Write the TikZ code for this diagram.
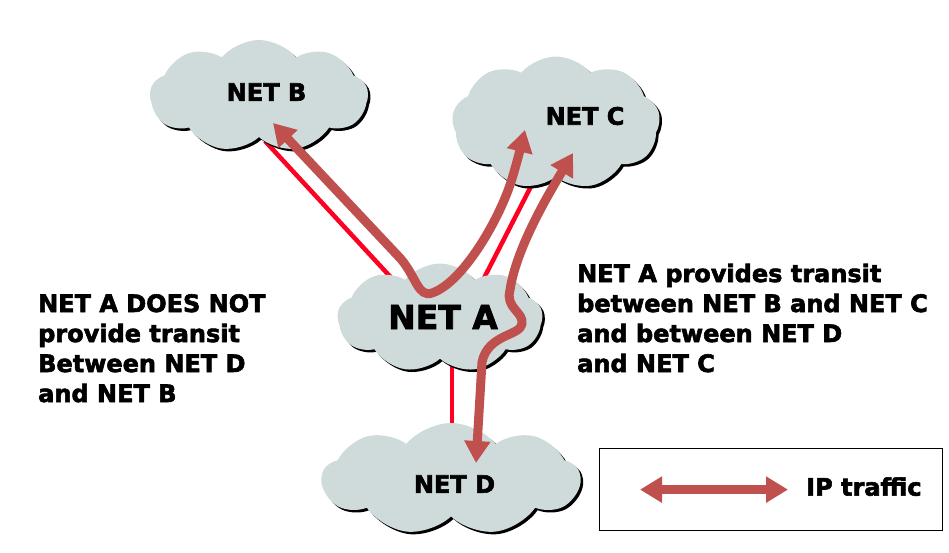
\documentclass[tikz,border=0pt]{standalone}
\usepackage{fontspec}
\setmainfont{DejaVu Sans}[BoldFeatures={FakeBold=2.5}]
\usetikzlibrary{shapes.symbols,shadows,arrows.meta}
\definecolor{cloudfill}{HTML}{CFDADB}
\definecolor{traffic}{HTML}{C0504D}
\definecolor{linkred}{HTML}{FF0022}
\begin{document}
\begin{tikzpicture}[x=1pt,y=-1pt,
  netcloud/.style={cloud, cloud puffs=9, cloud puff arc=100, fill=cloudfill, draw=none, inner sep=0pt,
    drop shadow={fill=black, opacity=1, shadow xshift=2.5pt, shadow yshift=-2.5pt}},
  redlink/.style={draw=linkred, line width=4.5pt},
  trafficarrow/.style={draw=traffic, line width=9pt, line join=round,
    {Triangle[length=22pt,width=25pt]}-{Triangle[length=22pt,width=25pt]}},
  netname/.style={font=\bfseries\fontsize{24}{28}\selectfont, inner sep=0pt},
  bigname/.style={font=\bfseries\fontsize{33}{38}\selectfont, inner sep=0pt},
  txtblock/.style={font=\bfseries\fontsize{24}{30}\selectfont, align=left, inner sep=0pt, anchor=base west}
]
\useasboundingbox (0,0) rectangle (949,552);

% red physical links (behind clouds)
\coordinate (Bc) at (259,96);
\coordinate (Cc) at (556,123);
\coordinate (Ac) at (440,318);
\coordinate (Dc) at (451,479);
\draw[redlink] ([shift={(6,45)}]Bc) -- ([shift={(-43,-34)}]Ac);
\draw[redlink] ([shift={(-12,38)}]Cc) -- ([shift={(43,-38)}]Ac);
\draw[redlink] ([shift={(12,42)}]Ac) -- ([shift={(1,-44)}]Dc);

% clouds
\node[netcloud, minimum width=218pt, minimum height=112pt] (B) at (Bc) {};
\node[netcloud, minimum width=208pt, minimum height=133pt] (C) at (Cc) {};
\node[netcloud, minimum width=205pt, minimum height=109pt] (A) at (Ac) {};
\node[netcloud, minimum width=258pt, minimum height=112pt] (D) at (Dc) {};

\node[netname] (labB) at (266.5,92) {NET B};
\node[netname] (labC) at (585,116) {NET C};
\node[bigname] (labA) at (443,317) {NET A};
\node[netname] (labD) at (454.5,484) {NET D};

% IP traffic arrows
\draw[trafficarrow] ([shift={(14,27)}]B.center) -- (400,258)
  .. controls (416,276) and (418,298) .. (432,293)
  .. controls (462,283) and (498,222) .. (511,182)
  .. controls (516,166) and (520,150) .. ([shift={(-31,7)}]C.center);
\draw[trafficarrow] ([shift={(17,30)}]C.center)
  .. controls (545,200) and (516,250) .. (510,290)
  .. controls (505,308) and (524,312) .. (522,324)
  .. controls (520,336) and (488,334) .. (482,362)
  -- ([shift={(25,-16)}]D.center);

% texts (base anchor = baseline of last line)
\node[txtblock] (leftnote) at (38,402) {NET A DOES NOT\\provide transit\\Between NET D\\and NET B};
\node[txtblock] (rightnote) at (577,372) {NET A provides transit\\between NET B and NET C\\and between NET D\\and NET C};

% legend
\node[draw, line width=1.2pt, minimum width=343pt, minimum height=82pt, inner sep=0pt, anchor=north west] (legend) at (599,448) {};
\draw[trafficarrow] ([xshift=41pt]legend.west) -- ([xshift=189pt]legend.west);
\node[netname, anchor=base west] (iplabel) at ([xshift=207pt,yshift=-6pt]legend.west) {IP traffic};
\end{tikzpicture}
\end{document}
